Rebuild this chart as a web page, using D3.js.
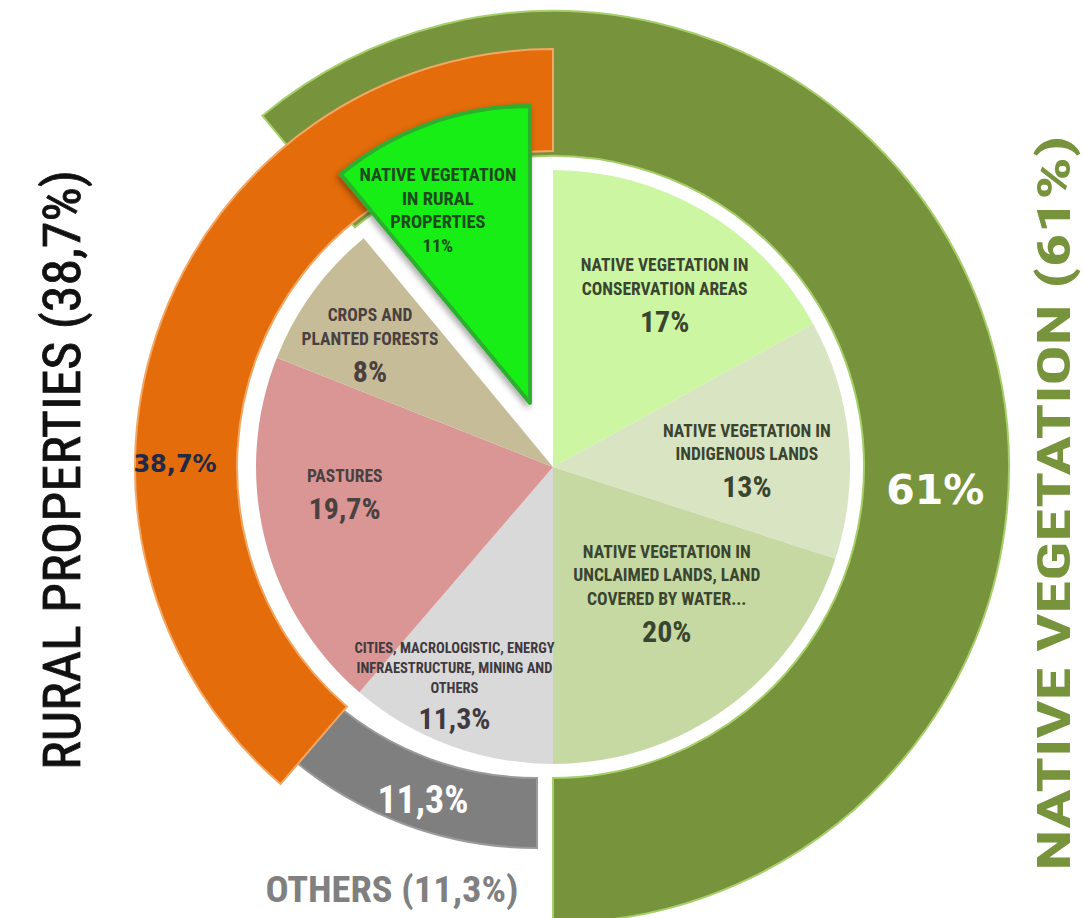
<!DOCTYPE html>
<html>
<head>
<meta charset="utf-8">
<script src="https://d3js.org/d3.v7.min.js"></script>
<style>
  html, body { margin: 0; padding: 0; background: #fff; }
  svg { display: block; }
  text { font-family: "Liberation Sans Narrow", "Roboto Condensed", "DejaVu Sans Condensed", sans-serif; }
</style>
</head>
<body>
<div id="chart"></div>
<script>
// inner pie: land use shares (clockwise from 12 o'clock)
const sliceNames = [
    ["NATIVE VEGETATION IN", "CONSERVATION AREAS"],
    ["NATIVE VEGETATION IN", "INDIGENOUS LANDS"],
    ["NATIVE VEGETATION IN", "UNCLAIMED LANDS, LAND", "COVERED BY WATER..."],
    ["CITIES, MACROLOGISTIC, ENERGY", "INFRAESTRUCTURE, MINING AND", "OTHERS"],
    ["PASTURES"],
    ["CROPS AND", "PLANTED FORESTS"],
    ["NATIVE VEGETATION", "IN RURAL", "PROPERTIES"]
];
const sliceValues = [17, 13, 20, 11.3, 19.7, 8, 11];
const sliceLabels = ["17%", "13%", "20%", "11,3%", "19,7%", "8%", "11%"];

// outer ring: groups of slices (native vegetation overlaps rural properties)
const groupNames = ["NATIVE VEGETATION", "OTHERS", "RURAL PROPERTIES"];
const groupValues = [61, 11.3, 38.7];
const groupLabels = ["61%", "11,3%", "38,7%"];
const groupMembers = [[6, 0, 1, 2], [3], [4, 5, 6]];

// styling
const sliceColors = ["#ccf6a2", "#d8e4c2", "#c6d9a2", "#d9d9d9", "#d99694", "#c6bd98", "#12ee12"];
const sliceText = ["#3a4530", "#3a4530", "#3a4530", "#403a40", "#4a4040", "#4a4040", "#1d4a1d"];
const groupColors = ["#77933c", "#7f7f7f", "#e46c0a"];
const groupGlow = ["#a6cf6a", "#9a9a9a", "#f3a763"];

const W = 1084, H = 918;
const cx = 553, cy = 467;
const R = 297;
const explode = 68;              // native vegetation in rural properties pulled out
const ringRadii = [[311, 456], [311, 381], [316, 418]];
const othersShift = 16;          // gap between "others" ring and native vegetation ring
// label placement (radius, angle tweak in degrees)
const labelR = [205, 194, 170, 240, 210, 220, 214];
const labelDA = [2.4, 3.4, -6, 3.9, 6.6, -2.3, -5.7];
const groupLabelAngle = [93.4, 198.9, 270.5];
const groupLabelR = [383, 352, 378];

const svg = d3.select("#chart").append("svg")
    .attr("width", W).attr("height", H)
    .attr("viewBox", [0, 0, W, H]);

svg.append("rect").attr("width", W).attr("height", H).attr("fill", "#fff");

const defs = svg.append("defs");
const sh = defs.append("filter").attr("id", "shadow").attr("x", "-20%").attr("y", "-20%").attr("width", "140%").attr("height", "140%");
sh.append("feDropShadow").attr("dx", -2).attr("dy", 3).attr("stdDeviation", 3).attr("flood-color", "#000").attr("flood-opacity", 0.35);

const pie = d3.pie().sort(null).value(d => d);
const arcs = pie(sliceValues);

// outer ring angles derived from member slices
const TAU = 2 * Math.PI;
const groupArcs = groupMembers.map((m, gi) => {
    let a0 = arcs[m[0]].startAngle, a1 = a0;
    m.forEach(idx => {
        let s = arcs[idx].startAngle;
        while (s < a1 - 1e-6) s += TAU;
        a1 = s + (arcs[idx].endAngle - arcs[idx].startAngle);
    });
    if (a1 > TAU + 1e-6) { a0 -= TAU; a1 -= TAU; }
    return { startAngle: a0, endAngle: a1, gi };
});

const g = svg.append("g").attr("transform", `translate(${cx},${cy})`);

// outer ring (native vegetation first, rural properties on top)
g.append("g").selectAll("path")
    .data(groupArcs)
    .join("path")
    .attr("transform", d => d.gi === 1 ? `translate(${-othersShift},0)` : null)
    .attr("d", d => d3.arc().innerRadius(ringRadii[d.gi][0]).outerRadius(ringRadii[d.gi][1])(d))
    .attr("fill", d => groupColors[d.gi])
    .attr("stroke", d => groupGlow[d.gi])
    .attr("stroke-width", 2);

// inner pie
const arc = d3.arc().innerRadius(0).outerRadius(R);
const offset = (d, i) => {
    if (i !== 6) return [0, 0];
    const a = (d.startAngle + d.endAngle) / 2;
    return [Math.sin(a) * explode, -Math.cos(a) * explode];
};

g.append("g").selectAll("path")
    .data(arcs)
    .join("path")
    .attr("transform", (d, i) => `translate(${offset(d, i)})`)
    .attr("d", arc)
    .attr("fill", (d, i) => sliceColors[i])
    .attr("stroke", (d, i) => i === 6 ? "#2fae2f" : "none")
    .attr("stroke-width", (d, i) => i === 6 ? 4 : 0)
    .attr("stroke-linejoin", "round")
    .attr("filter", (d, i) => i === 6 ? "url(#shadow)" : null);

// slice labels (own layer, above all slices)
const labels = g.append("g").attr("text-anchor", "middle").attr("font-weight", "bold");
arcs.forEach((d, i) => {
    const [ox, oy] = offset(d, i);
    const a = (d.startAngle + d.endAngle) / 2 + labelDA[i] * Math.PI / 180;
    const x = Math.sin(a) * labelR[i] + ox, y = -Math.cos(a) * labelR[i] + oy;
    const lines = sliceNames[i];
    const small = i === 3 ? 14.5 : (i === 6 ? 18.5 : 17.5);
    const lh = i === 3 ? 20 : 23.5;
    const pctSize = i === 6 ? small : 30;
    const blockH = lines.length * lh + (i === 6 ? lh : pctSize + 6);
    const y0 = y - blockH / 2;
    const t = labels.append("g").attr("fill", sliceText[i]);
    lines.forEach((ln, k) => {
        t.append("text").attr("x", x).attr("y", y0 + lh * (k + 0.5)).attr("dy", "0.35em")
            .attr("font-size", small).text(ln);
    });
    t.append("text").attr("x", x)
        .attr("y", i === 6 ? y0 + lh * (lines.length + 0.5) : y0 + lines.length * lh + 6 + pctSize / 2)
        .attr("dy", "0.35em")
        .attr("font-size", pctSize).text(sliceLabels[i]);
});

// ring value labels
groupArcs.forEach(d => {
    const a = groupLabelAngle[d.gi] * Math.PI / 180;
    const r = groupLabelR[d.gi];
    const sx = d.gi === 1 ? -othersShift : 0;
    g.append("text")
        .attr("x", Math.sin(a) * r + sx).attr("y", -Math.cos(a) * r)
        .attr("dy", "0.35em").attr("text-anchor", "middle")
        .style("font-family", d.gi === 1 ? null : "'DejaVu Sans', sans-serif")
        .attr("font-weight", "bold")
        .attr("font-size", d.gi === 0 ? 41 : d.gi === 1 ? 38 : 24)
        .attr("fill", d.gi === 2 ? "#1f2a48" : "#fff")
        .text(groupLabels[d.gi]);
});

// group titles
const titles = svg.append("g").attr("text-anchor", "middle");
titles.append("text")
    .attr("transform", "translate(62,470) rotate(-90)")
    .attr("dy", "0.35em")
    .attr("font-size", 52).attr("fill", "#111")
    .attr("stroke", "#111").attr("stroke-width", 0.8)
    .attr("textLength", 600).attr("lengthAdjust", "spacingAndGlyphs")
    .text(`${groupNames[2]} (${groupLabels[2]})`);
titles.append("text")
    .attr("transform", "translate(1054,503) rotate(-90)")
    .attr("dy", "0.35em")
    .attr("font-size", 47).attr("font-weight", "bold").attr("fill", groupColors[0])
    .attr("textLength", 735).attr("lengthAdjust", "spacingAndGlyphs")
    .text(`${groupNames[0]} (${groupLabels[0]})`);
titles.append("text")
    .attr("x", 392).attr("y", 889).attr("dy", "0.35em")
    .attr("font-size", 37).attr("font-weight", "bold").attr("fill", "#808080")
    .attr("textLength", 253).attr("lengthAdjust", "spacingAndGlyphs")
    .text(`${groupNames[1]} (${groupLabels[1]})`);
</script>
</body>
</html>
